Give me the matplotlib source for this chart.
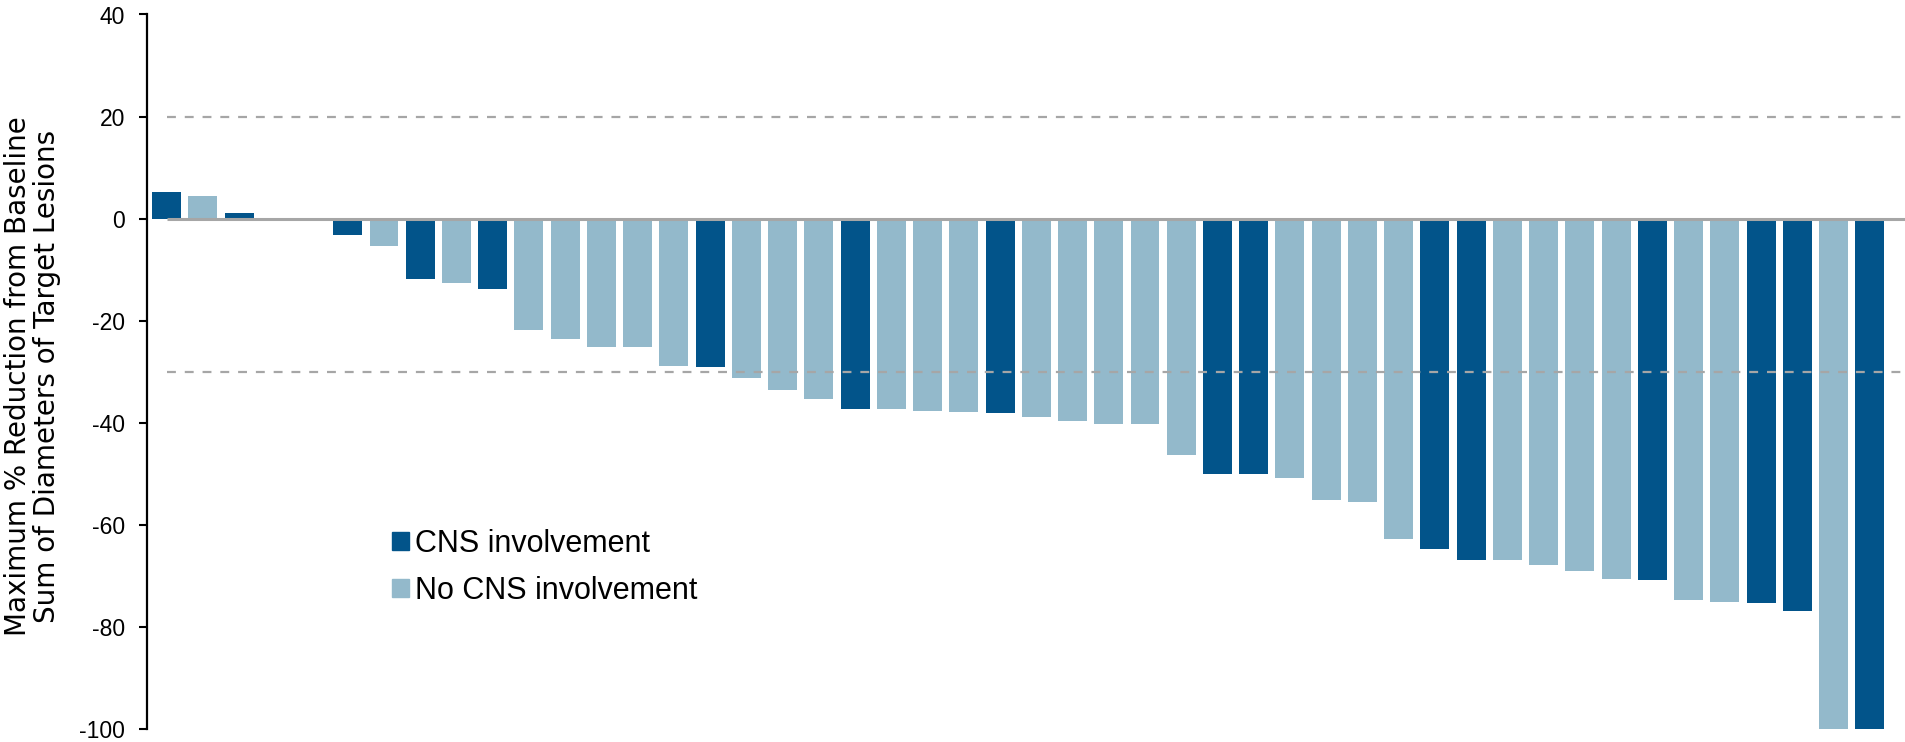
import numpy as np
import matplotlib.pyplot as plt
from matplotlib.patches import Patch

# Best % change in target lesions, one bar per patient (sorted)
change = [5.3, 4.5, 1.2, 0.0, 0.0, -3.3, -5.4, -11.9, -12.7, -13.8,
          -21.8, -23.5, -25.1, -25.1, -28.8, -29.1, -31.2, -33.6, -35.3, -37.3,
          -37.3, -37.7, -37.9, -38.1, -38.8, -39.6, -40.3, -40.3, -46.3, -50.1,
          -50.1, -50.8, -55.1, -55.5, -62.8, -64.8, -66.9, -66.9, -67.8, -69.1,
          -70.6, -70.8, -74.7, -75.1, -75.3, -76.8, -100.0, -100.0]

# 1 = CNS involvement, 0 = no CNS involvement
cns = [1, 0, 1, 0, 0, 1, 0, 1, 0, 1,
       0, 0, 0, 0, 0, 1, 0, 0, 0, 1,
       0, 0, 0, 1, 0, 0, 0, 0, 0, 1,
       1, 0, 0, 0, 0, 1, 1, 0, 0, 0,
       0, 1, 0, 0, 1, 1, 0, 1]

legend_labels = ['CNS involvement', 'No CNS involvement']
yticks = [40, 20, 0, -20, -40, -60, -80, -100]
thresholds = [20, -30]

dark = '#02548A'
light = '#93B9CB'
grey = '#A6A6A6'

W, H = 1906, 742
fig = plt.figure(figsize=(W / 100, H / 100), dpi=100)
ax = fig.add_axes([147 / W, 1 - 729 / H, 1 - 147 / W, (729 - 14.5) / H])

x = np.arange(len(change))
colors = [dark if c else light for c in cns]
ax.bar(x, change, width=0.8, color=colors, zorder=2)

ax.hlines(0, 0, 48, color=grey, lw=2.2, zorder=3)
for t in thresholds:
    ax.hlines(t, 0, 48, color=grey, lw=1.6, linestyles=(0, (4, 4)), zorder=3)

ax.set_xlim(-0.54, 48)
ax.set_ylim(-100, 40)
ax.set_yticks(yticks)
ax.set_yticklabels([str(v) for v in yticks], family=['Liberation Sans'], fontsize=16.5)
ax.tick_params(axis='y', direction='out', length=6, width=1.5, pad=10)
ax.set_xticks([])
for s in ['top', 'right', 'bottom']:
    ax.spines[s].set_visible(False)
ax.spines['left'].set_linewidth(1.6)

fig.text(32.5 / W, 1 - 376 / H,
         'Maximum % Reduction from Baseline\nSum of Diameters of Target Lesions',
         rotation=90, ha='center', va='center', multialignment='center',
         family=['DejaVu Sans'], fontsize=20, linespacing=1.04)

handles = [Patch(color=dark), Patch(color=light)]
ax.legend(handles, legend_labels, loc='upper left',
          bbox_to_anchor=(392 / W, 1 - 529 / H), bbox_transform=fig.transFigure,
          frameon=False, borderpad=0, borderaxespad=0,
          handlelength=0.55, handleheight=0.55, handletextpad=0.2,
          labelspacing=0.55,
          prop={'family': ['Liberation Sans'], 'size': 22})

fig.savefig('out.png', dpi=100)
